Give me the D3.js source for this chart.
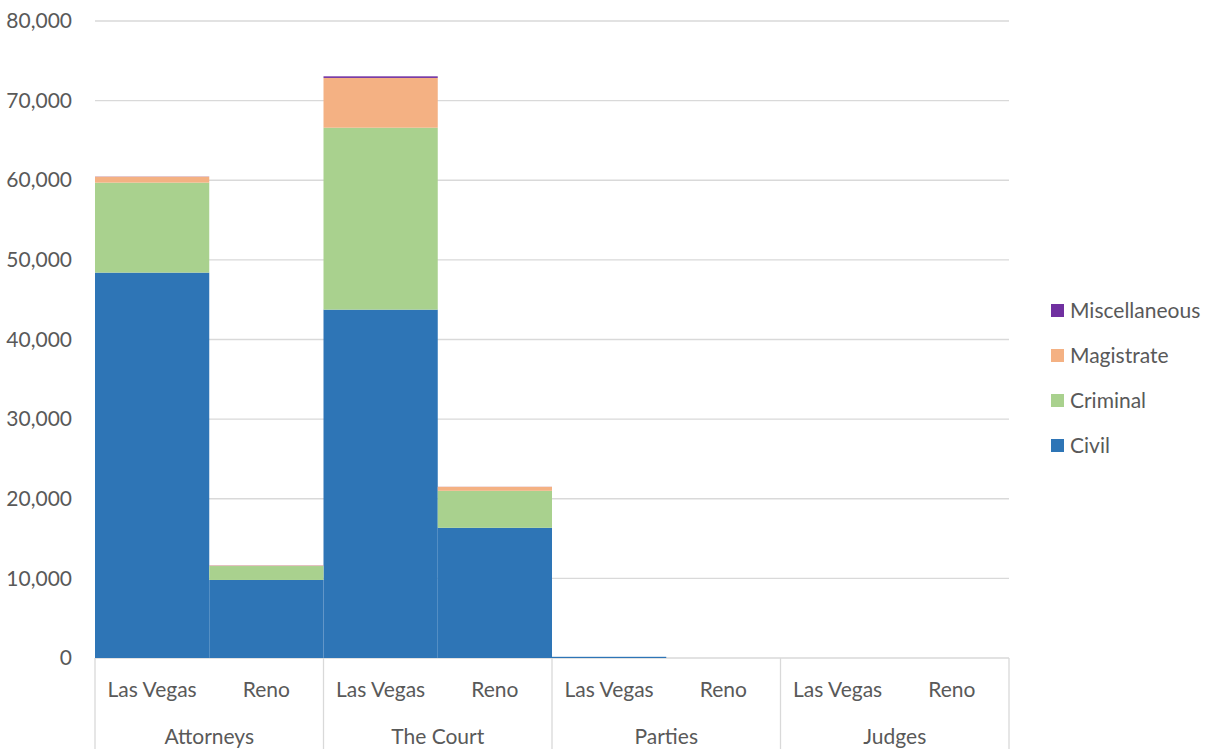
<!DOCTYPE html>
<html><head><meta charset="utf-8">
<script src="https://cdn.jsdelivr.net/npm/d3@7"></script>
<style>body{margin:0;background:#fff}svg{display:block}text{font-family:Lato,"Open Sans",sans-serif;fill:#595959}</style>
</head><body><svg id="c" width="1215" height="749"></svg>
<script>
const groups = ["Attorneys","The Court","Parties","Judges"];
const cities = ["Las Vegas","Reno"];
const series = ["Civil","Criminal","Magistrate","Miscellaneous"];
const colors = ["#2E75B6","#A9D18E","#F4B183","#7030A0"];
// order: Attorneys LV, Attorneys Reno, Court LV, Court Reno, Parties LV, Parties Reno, Judges LV, Judges Reno
const civil = [48400, 9800, 43750, 16350, 150, 0, 0, 0];
const criminal = [11300, 1750, 22850, 4650, 0, 0, 0, 0];
const magistrate = [750, 60, 6250, 500, 0, 0, 0, 0];
const miscellaneous = [20, 20, 200, 10, 0, 0, 0, 0];
const yTicks = [0,10000,20000,30000,40000,50000,60000,70000,80000];

const svg = d3.select("#c");
const L=95, R=1009, T=21, B=658;
const FS = "21px";
const keys = [];
groups.forEach(g=>cities.forEach(c=>keys.push(g+"|"+c)));
const rows = keys.map((k,i)=>({key:k,Civil:civil[i],Criminal:criminal[i],Magistrate:magistrate[i],Miscellaneous:miscellaneous[i]}));
const x = d3.scaleBand().domain(keys).range([L,R]).padding(0);
const xg = d3.scaleBand().domain(groups).range([L,R]).padding(0);
const y = d3.scaleLinear().domain([0,80000]).range([B,T]);

// gridlines
svg.append("g").selectAll("line").data(yTicks).join("line")
  .attr("x1",L).attr("x2",R).attr("y1",d=>y(d)).attr("y2",d=>y(d))
  .attr("stroke","#d9d9d9").attr("stroke-width",1.3);

// y axis labels
const yAxis = d3.axisLeft(y).tickValues(yTicks).tickFormat(d3.format(",")).tickSize(0).tickPadding(0);
const ya = svg.append("g").attr("transform",`translate(72,0)`).call(yAxis);
ya.select(".domain").remove();
ya.selectAll("text").style("font-size",FS).attr("fill","#595959").attr("dy","0.32em");

// bars
const stack = d3.stack().keys(series)(rows);
svg.append("g").selectAll("g").data(stack).join("g")
  .attr("fill",(d,i)=>colors[i])
  .selectAll("rect").data(d=>d).join("rect")
  .attr("x",d=>x(d.data.key)).attr("width",x.bandwidth())
  .attr("y",d=>y(d[1])).attr("height",d=>Math.max(0,y(d[0])-y(d[1])));

// x axis category lines
const bounds = groups.map(g=>xg(g)).concat([R]);
svg.append("g").selectAll("line").data(bounds).join("line")
  .attr("x1",d=>d).attr("x2",d=>d).attr("y1",B).attr("y2",749)
  .attr("stroke","#d9d9d9").attr("stroke-width",1.3);

// city labels
svg.append("g").selectAll("text").data(rows).join("text")
  .attr("x",d=>x(d.key)+x.bandwidth()/2).attr("y",697)
  .attr("text-anchor","middle").style("font-size",FS)
  .text(d=>d.key.split("|")[1]);
// group labels
svg.append("g").selectAll("text").data(groups).join("text")
  .attr("x",d=>xg(d)+xg.bandwidth()/2).attr("y",744)
  .attr("text-anchor","middle").style("font-size",FS).text(d=>d);

// legend
const leg = svg.append("g").selectAll("g").data(series.slice().reverse()).join("g")
  .attr("transform",(d,i)=>`translate(1051,${311+i*45})`);
leg.append("rect").attr("x",0).attr("y",-7).attr("width",13).attr("height",13)
  .attr("fill",d=>colors[series.indexOf(d)]);
leg.append("text").attr("x",19).attr("y",0).attr("dy","0.35em").style("font-size",FS).text(d=>d);
</script></body></html>
